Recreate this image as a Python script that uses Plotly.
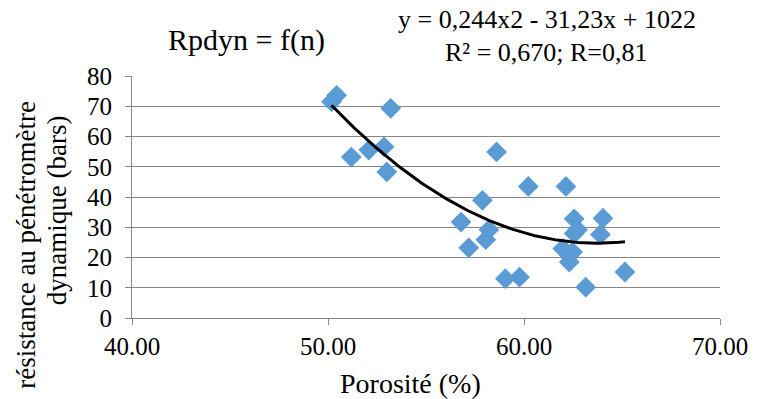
import numpy as np
import plotly.graph_objects as go

porosite = [50.18, 50.44, 51.19, 52.08, 52.86, 53.00, 53.20, 56.79, 57.18, 57.88,
            58.05, 58.21, 58.60, 59.05, 59.77, 60.22, 62.14, 62.56, 62.73, 62.56,
            61.98, 62.48, 62.31, 63.15, 64.03, 63.90, 65.15]
rpdyn = [71.5, 73.6, 53.2, 55.5, 56.6, 48.3, 69.3, 31.7, 23.2, 38.9,
         25.9, 29.2, 54.9, 13.0, 13.5, 43.5, 43.5, 32.8, 29.2, 27.9,
         22.9, 21.8, 18.5, 10.2, 33.0, 27.6, 15.2]

x_ticks = [40, 50, 60, 70]
x_tick_labels = ["40.00", "50.00", "60.00", "70.00"]
y_ticks = [0, 10, 20, 30, 40, 50, 60, 70, 80]

title_text = "Rpdyn = f(n)"
eq_line1 = "y = 0,244x2 - 31,23x + 1022"
eq_line2 = "R² = 0,670; R=0,81"
x_title = "Porosité (%)"
y_title_1 = "résistance au pénétromètre"
y_title_2 = "dynamique (bars)"

coef = np.polyfit(porosite, rpdyn, 2)
xs = np.linspace(min(porosite), max(porosite), 200)
ys = np.polyval(coef, xs)

font = "Liberation Serif"

fig = go.Figure()
fig.add_trace(go.Scatter(x=porosite, y=rpdyn, mode="markers",
                         marker=dict(symbol="diamond", size=16, color="#5B9BD5"),
                         showlegend=False))
fig.add_trace(go.Scatter(x=xs, y=ys, mode="lines",
                         line=dict(color="black", width=3), showlegend=False))

L, R, T, B = 132, 30, 76, 81
fig.update_layout(
    width=760, height=399,
    margin=dict(l=L, r=R, t=T, b=B),
    paper_bgcolor="white", plot_bgcolor="white",
    font=dict(family=font, color="black"),
    xaxis=dict(range=[40, 70], tickvals=x_ticks, ticktext=x_tick_labels,
               showgrid=False, showline=True, linecolor="#868686", linewidth=1,
               ticks="outside", ticklen=6, tickcolor="#868686",
               tickfont=dict(size=25, family=font), zeroline=False),
    yaxis=dict(range=[0, 80], tickvals=y_ticks,
               showgrid=True, gridcolor="#868686", gridwidth=1,
               showline=True, linecolor="#868686", linewidth=1,
               ticks="outside", ticklen=6, tickcolor="#868686",
               ticklabelstandoff=8,
               tickfont=dict(size=25, family=font), zeroline=False),
)
pw = 760 - L - R
ph = 399 - T - B

def ann(text, px, py, size, angle=0):
    fig.add_annotation(text=text, x=(px - L) / pw, y=(399 - B - py) / ph,
                       xref="paper", yref="paper", showarrow=False,
                       xanchor="center", yanchor="middle", textangle=angle,
                       font=dict(size=size, family=font))

ann(title_text, 248, 40, 30)
ann(eq_line1, 554, 19, 26)
ann(eq_line2, 554, 52, 26)
ann(x_title, 415, 383, 28)
ann(y_title_1, 24, 245, 27, -90)
ann(y_title_2, 56, 210, 27, -90)

fig.write_html("out.html")
